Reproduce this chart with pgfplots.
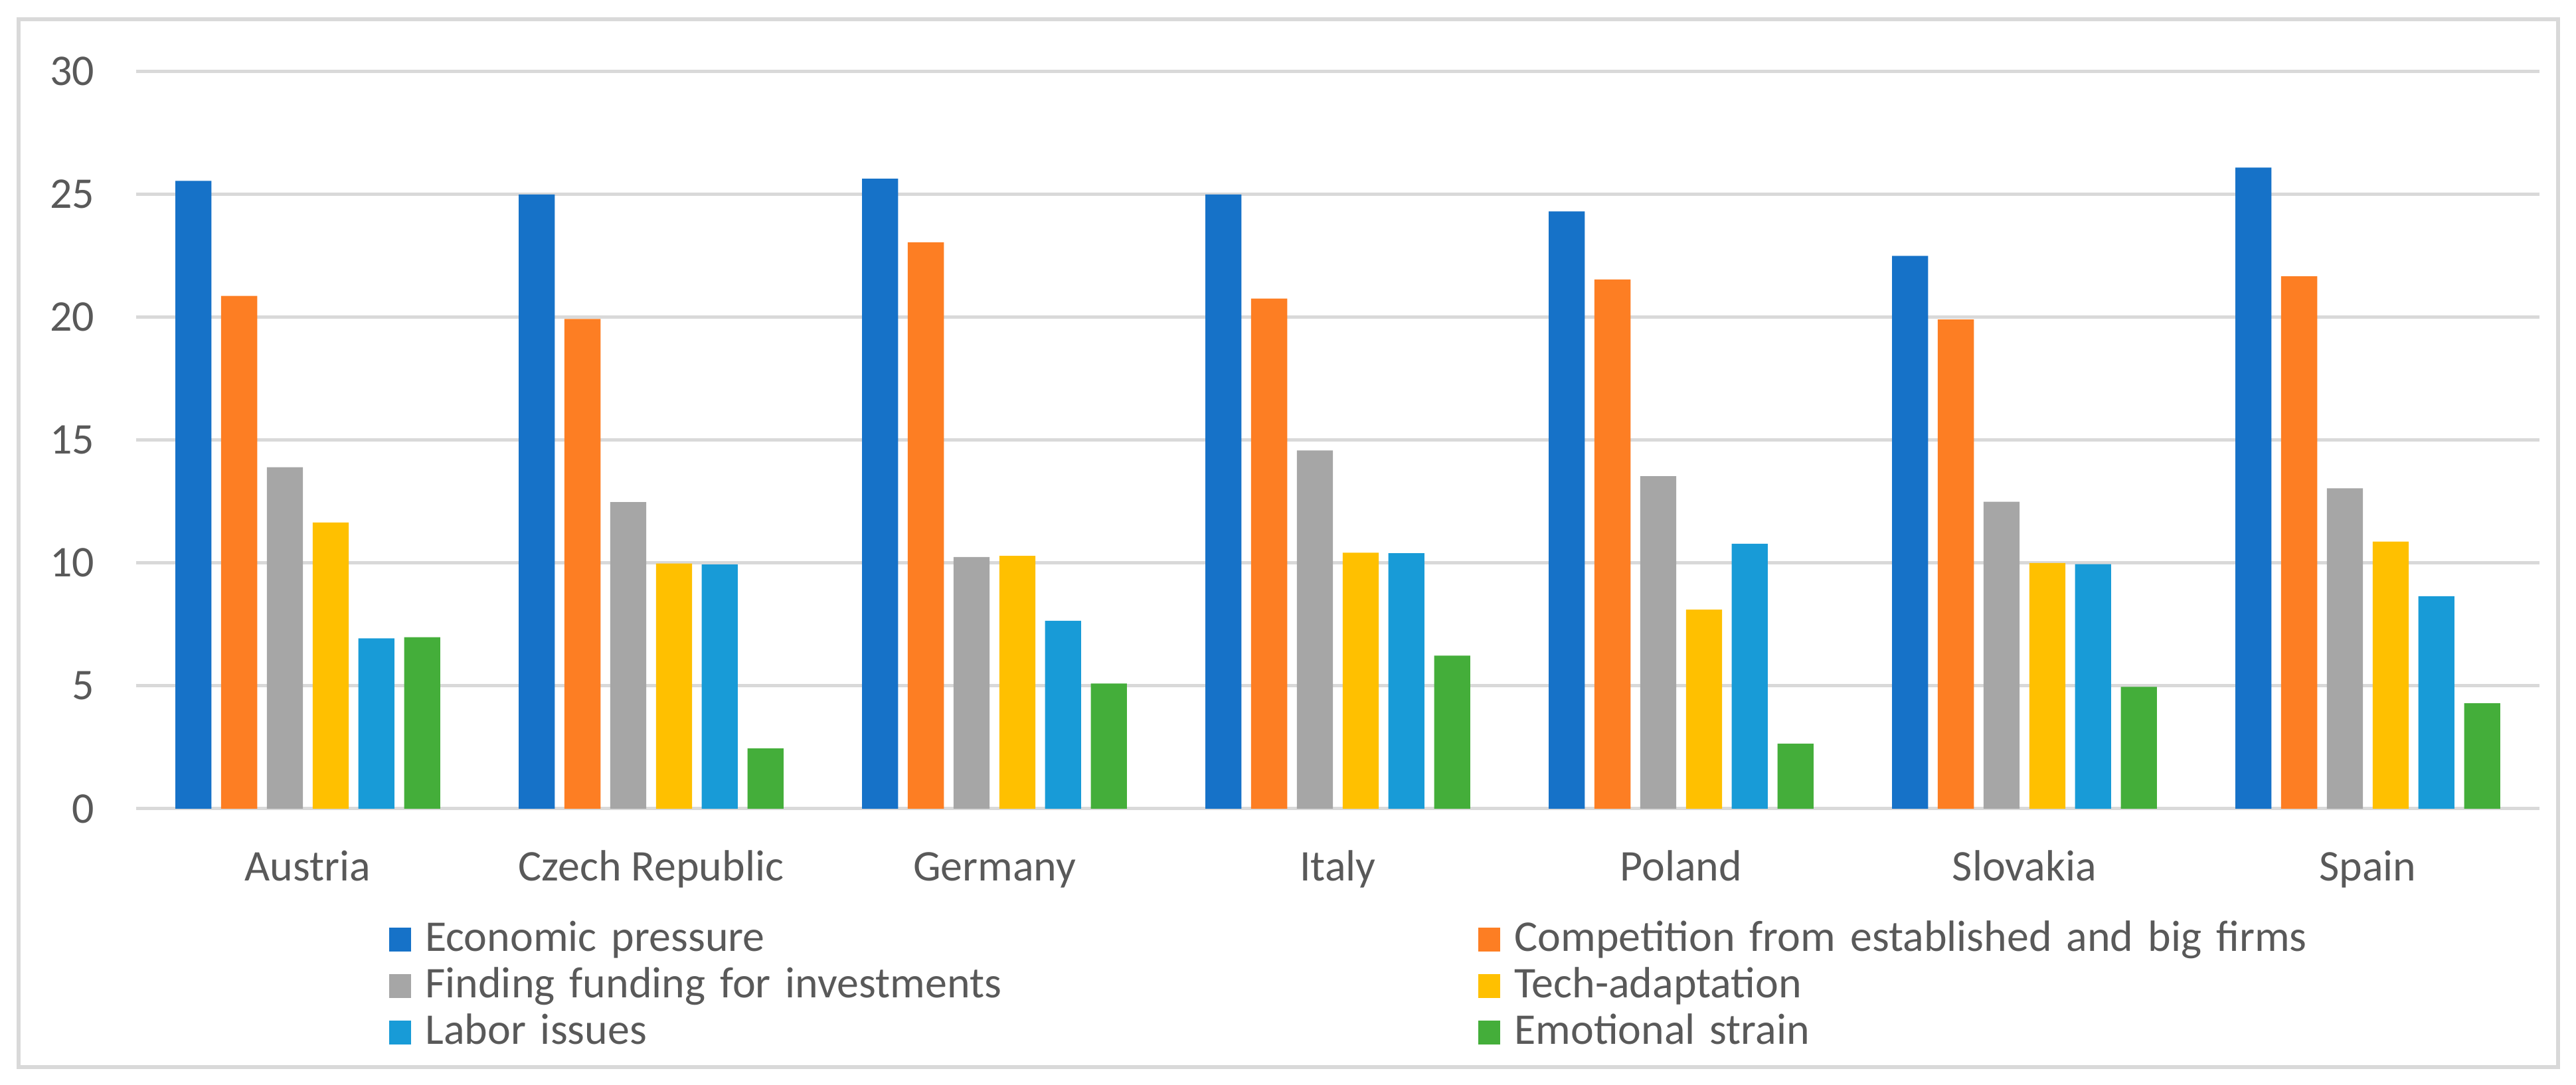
\documentclass[border=0pt]{standalone}
\usepackage{pgfplots}
\pgfplotsset{compat=1.18}
\usepackage{pgfplotstable}
\usepackage{fontspec}
\setmainfont{Carlito}

\definecolor{cEco}{RGB}{22,114,200}
\definecolor{cComp}{RGB}{253,126,35}
\definecolor{cFund}{RGB}{166,166,166}
\definecolor{cTech}{RGB}{255,192,0}
\definecolor{cLabor}{RGB}{24,155,215}
\definecolor{cEmo}{RGB}{68,174,58}
\definecolor{txtgray}{RGB}{89,89,89}
\definecolor{gridgray}{RGB}{217,217,217}

% share of respondents per country and problem
\pgfplotstableread{
x  eco    comp   fund   tech   labor  emo
0  25.55  20.87  13.90  11.65  6.93   6.98
1  25.00  19.93  12.48  9.98   9.94   2.45
2  25.64  23.05  10.24  10.29  7.65   5.09
3  25.00  20.76  14.58  10.42  10.40  6.23
4  24.31  21.54  13.53  8.10   10.78  2.65
5  22.50  19.91  12.49  10.00  9.95   4.96
6  26.09  21.67  13.04  10.87  8.65   4.29
}\datatable

\pgfplotsset{
  sqlegend/.style={legend image code/.code={\fill[##1] (0pt,-2.3pt) rectangle (4.3pt,2.3pt);}},
}

\begin{document}
\begin{tikzpicture}
\useasboundingbox (0,0) rectangle (500pt,210.6pt);
\begin{axis}[
  at={(26.42pt,53.62pt)}, anchor=south west,
  scale only axis,
  width=466.48pt, height=143.08pt,
  ybar=1.88pt, bar width=7.0pt,
  xmin=-0.5, xmax=6.5,
  ymin=0, ymax=30,
  enlargelimits=false,
  xtick=data,
  xticklabels={Austria, Czech Republic, Germany, Italy, Poland, Slovakia, Spain},
  ytick={0,5,10,15,20,25,30},
  axis line style={draw=none},
  major tick length=0pt,
  ymajorgrids,
  grid style={gridgray, line width=0.65pt},
  /pgf/number format/assume math mode=true,
  ticklabel style={font=\fontsize{8.5}{10}\selectfont, text=txtgray},
  xticklabel style={anchor=north, inner sep=0pt, text height=6pt, yshift=-7.8pt},
  yticklabel style={anchor=east, inner sep=0pt, xshift=-7.9pt},
  legend columns=2,
  legend cell align=left,
  legend style={at={(0.1053,-0.1476)}, anchor=north west, draw=none, fill=none,
    inner sep=0pt, outer sep=0pt, column sep=2.7pt, row sep=0.42pt,
    nodes={inner sep=0pt, text width=201.7pt, align=left, text height=6.6pt, text depth=2pt,
      font=\fontsize{8.5}{10}\selectfont, text=txtgray}},
]
\addplot[fill=cEco, draw=none, sqlegend] table[x=x, y=eco] {\datatable};
\addplot[fill=cComp, draw=none, sqlegend] table[x=x, y=comp] {\datatable};
\addplot[fill=cFund, draw=none, sqlegend] table[x=x, y=fund] {\datatable};
\addplot[fill=cTech, draw=none, sqlegend] table[x=x, y=tech] {\datatable};
\addplot[fill=cLabor, draw=none, sqlegend] table[x=x, y=labor] {\datatable};
\addplot[fill=cEmo, draw=none, sqlegend] table[x=x, y=emo] {\datatable};
\legend{Economic pressure, Competition from established and big firms,
  Finding funding for investments, Tech-adaptation,
  Labor issues, Emotional strain}
\end{axis}
\draw[gridgray, line width=0.75pt] (3.6pt,3.5pt) rectangle (496.5pt,206.9pt);
\end{tikzpicture}
\end{document}
